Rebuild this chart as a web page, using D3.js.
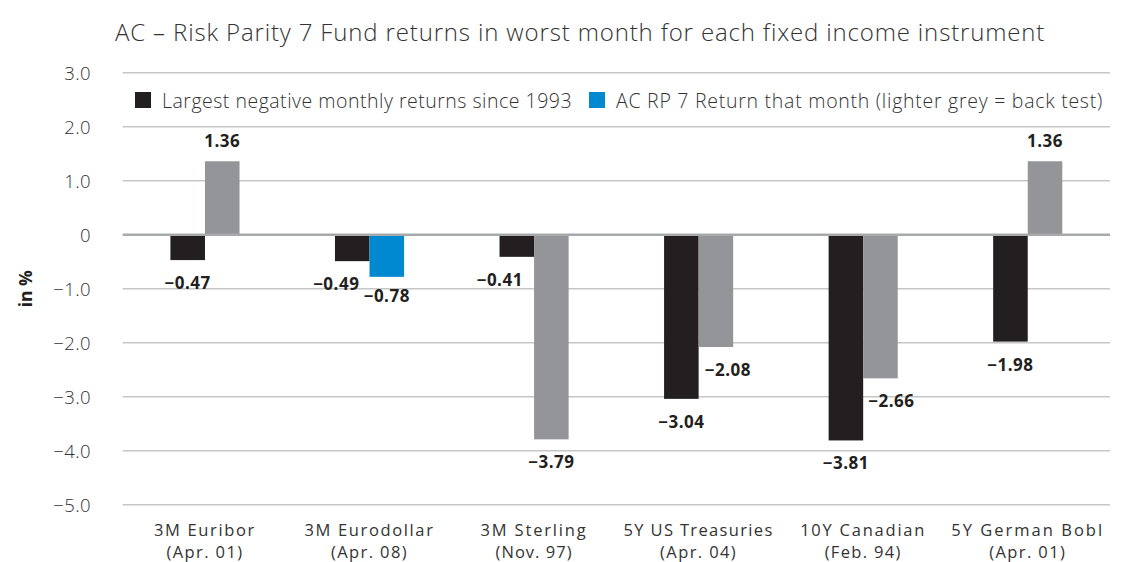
<!DOCTYPE html>
<html>
<head>
<meta charset="utf-8">
<script src="https://cdn.jsdelivr.net/npm/d3@7"></script>
<style>
  html, body { margin: 0; padding: 0; background: #fff; }
  svg { display: block; font-family: "Open Sans", "Noto Sans", sans-serif; }
</style>
</head>
<body>
<svg id="chart" width="1122" height="562"></svg>
<script>
// ---- data ----
const categories = ["3M Euribor", "3M Eurodollar", "3M Sterling", "5Y US Treasuries", "10Y Canadian", "5Y German Bobl"];
const periods = ["(Apr. 01)", "(Apr. 08)", "(Nov. 97)", "(Apr. 04)", "(Feb. 94)", "(Apr. 01)"];
const worstReturns = [-0.47, -0.49, -0.41, -3.04, -3.81, -1.98];
const fundReturns = [1.36, -0.78, -3.79, -2.08, -2.66, 1.36];
const fundIsLive = [false, true, false, false, false, false];
const yTicks = [3, 2, 1, 0, -1, -2, -3, -4, -5];
const seriesNames = ["Largest negative monthly returns since 1993", "AC RP 7 Return that month (lighter grey = back test)"];
const title = "AC \u2013 Risk Parity 7 Fund returns in worst month for each fixed income instrument";
const yTitle = "in %";
// label nudges (px) to avoid overlaps, as in original
const worstLabelShift = [0, -16, -17, 0, 0, 0];
const fundLabelShift = [0, 0, 0, 12, 11, 0];

// ---- layout ----
const svg = d3.select("#chart");
const margin = { left: 122.7, right: 12, top: 72.7, bottom: 57.3 };
const W = 1122, H = 562;
const colBlack = "#231f20", colGrey = "#939598", colBlue = "#0088d0", textCol = "#231f20", lightText = "#333";

// widen a text to a target width with letter-spacing (font metrics differ from original)
function fitWidth(sel, target) {
  sel.each(function () {
    const len = this.getComputedTextLength();
    const n = this.textContent.length;
    if (n > 1) d3.select(this).attr("letter-spacing", ((target - len) / n).toFixed(2));
  });
}

const x = d3.scaleBand().domain(categories).range([margin.left, W - margin.right])
  .paddingInner(0.58).paddingOuter(0.29);
const xs = d3.scaleBand().domain(["worst", "fund"]).range([0, x.bandwidth()]);
const y = d3.scaleLinear().domain([-5, 3]).range([H - margin.bottom, margin.top]);

// gridlines
svg.append("g").selectAll("line").data(yTicks.filter(d => d !== 0)).join("line")
  .attr("x1", margin.left).attr("x2", W - margin.right)
  .attr("y1", d => y(d)).attr("y2", d => y(d))
  .attr("stroke", "#c6c6c6").attr("stroke-width", 1.5);

// y axis labels
const fmtTick = d => d === 0 ? "0" : (d < 0 ? "\u2212" : "") + Math.abs(d).toFixed(1);
const yAxis = d3.axisLeft(y).tickValues(yTicks).tickFormat(fmtTick).tickSize(0).tickPadding(0);
const gy = svg.append("g").attr("transform", `translate(91,0)`).call(yAxis);
gy.select(".domain").remove();
gy.selectAll("text").attr("font-size", 18.5).attr("fill", lightText).attr("font-family", "'Open Sans', sans-serif")
  .attr("font-weight", 300).attr("dy", "0.36em").attr("letter-spacing", 0.4);

// y title
svg.append("text").attr("transform", `translate(32,${(y(3) + y(-5)) / 2}) rotate(-90)`)
  .attr("text-anchor", "middle").attr("font-size", 17.5).attr("font-weight", 700).attr("fill", textCol)
  .text(yTitle);

// bars
const rows = categories.map((c, i) => ({ c, i, worst: worstReturns[i], fund: fundReturns[i], live: fundIsLive[i] }));
const gBars = svg.append("g");
gBars.selectAll("rect.worst").data(rows).join("rect").attr("class", "worst")
  .attr("x", d => x(d.c) + xs("worst")).attr("width", xs.bandwidth())
  .attr("y", d => y(Math.max(0, d.worst))).attr("height", d => Math.abs(y(d.worst) - y(0)))
  .attr("fill", colBlack);
gBars.selectAll("rect.fund").data(rows).join("rect").attr("class", "fund")
  .attr("x", d => x(d.c) + xs("fund")).attr("width", xs.bandwidth())
  .attr("y", d => y(Math.max(0, d.fund))).attr("height", d => Math.abs(y(d.fund) - y(0)))
  .attr("fill", d => d.live ? colBlue : colGrey);

// zero line
svg.append("line").attr("x1", margin.left).attr("x2", W - margin.right)
  .attr("y1", y(0)).attr("y2", y(0)).attr("stroke", "#a7a9ac").attr("stroke-width", 2.5);

// value labels
const fmtVal = v => (v < 0 ? "\u2212" : "") + Math.abs(v).toFixed(2);
function labelY(v) { return v < 0 ? y(v) + 29 : y(v) - 14; }
const gLab = svg.append("g").attr("font-size", 17).attr("font-weight", 700).attr("fill", textCol).attr("text-anchor", "middle");
gLab.selectAll("text.w").data(rows).join("text").attr("class", "w")
  .attr("x", d => x(d.c) + xs("worst") + xs.bandwidth() / 2 + worstLabelShift[d.i])
  .attr("y", d => labelY(d.worst)).text(d => fmtVal(d.worst));
gLab.selectAll("text.f").data(rows).join("text").attr("class", "f")
  .attr("x", d => x(d.c) + xs("fund") + xs.bandwidth() / 2 + fundLabelShift[d.i])
  .attr("y", d => d.fund < 0 ? y(d.fund) + 25 + (d.live ? 0 : 4) : labelY(d.fund)).text(d => fmtVal(d.fund));
gLab.selectAll("text").attr("letter-spacing", 0.5);

// x labels (two lines each)
const catWidths = [102, 130, 107, 150, 126, 153];
const gx = svg.append("g").attr("font-size", 16.5).attr("fill", lightText).attr("text-anchor", "middle").attr("font-weight", 400);
gx.selectAll("text.cat").data(rows).join("text").attr("class", "cat")
  .attr("x", d => x(d.c) + x.bandwidth() / 2).attr("y", 535.5).text(d => d.c)
  .each(function (d) { fitWidth(d3.select(this), catWidths[d.i]); });
gx.selectAll("text.per").data(rows).join("text").attr("class", "per")
  .attr("x", d => x(d.c) + x.bandwidth() / 2).attr("y", 558).text(d => periods[d.i])
  .each(function () { fitWidth(d3.select(this), 77); });

// legend
const legend = svg.append("g").attr("font-size", 19.5).attr("fill", lightText).attr("font-weight", 300);
const legX = [135, 589];
const legW = [410, 487];
const legCols = [colBlack, colBlue];
seriesNames.forEach((n, i) => {
  legend.append("rect").attr("x", legX[i]).attr("y", 92).attr("width", 16).attr("height", 16).attr("fill", legCols[i]);
  const t = legend.append("text").attr("x", legX[i] + 27).attr("y", 107.5).text(n);
  fitWidth(t, legW[i]);
});

// title
const tt = svg.append("text").attr("x", 115).attr("y", 41).attr("font-size", 24).attr("font-weight", 300).attr("fill", lightText)
  .text(title);
fitWidth(tt, 930);
</script>
</body>
</html>
